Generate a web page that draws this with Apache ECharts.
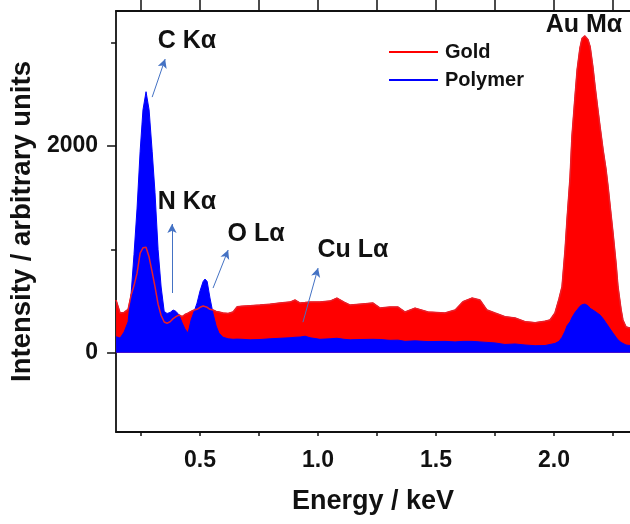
<!DOCTYPE html>
<html>
<head>
<meta charset="utf-8">
<script src="https://cdn.jsdelivr.net/npm/echarts@6/dist/echarts.min.js"></script>
<style>
html,body{margin:0;padding:0;background:#fff;}
#chart{width:630px;height:524px;}
</style>
</head>
<body>
<div id="chart"></div>
<script>
// Energy grid (keV)
var energyKeV = [0.144,0.161,0.178,0.195,0.208,0.220,0.233,0.246,0.258,0.271,0.284,0.297,0.309,0.322,0.335,0.348,0.360,0.373,0.386,0.398,0.411,0.424,0.436,0.449,0.462,0.475,0.487,0.500,0.513,0.521,0.530,0.542,0.555,0.568,0.580,0.597,0.619,0.640,0.657,0.678,0.712,0.754,0.797,0.839,0.881,0.903,0.924,0.945,0.966,1.008,1.051,1.080,1.110,1.136,1.178,1.233,1.263,1.305,1.339,1.369,1.411,1.466,1.538,1.581,1.614,1.652,1.686,1.716,1.750,1.792,1.835,1.877,1.920,1.962,1.983,2.004,2.021,2.034,2.047,2.055,2.068,2.076,2.089,2.098,2.110,2.119,2.131,2.144,2.153,2.165,2.174,2.186,2.195,2.208,2.220,2.229,2.241,2.250,2.263,2.271,2.284,2.292,2.305,2.322];
var goldCounts = [509,384,390,420,560,650,770,965,1015,1020,926,780,640,470,360,297,285,300,330,350,365,350,370,384,400,413,420,440,452,452,440,420,413,400,394,384,380,395,445,450,455,461,470,481,490,510,481,485,490,491,500,529,490,461,470,481,432,442,442,394,432,394,384,413,494,529,510,413,384,349,336,301,291,305,317,384,520,639,1000,1285,1700,2091,2480,2737,2950,3043,3066,3030,2962,2760,2575,2350,2188,1962,1780,1607,1350,1159,860,639,420,317,250,240];
var polymerCounts = [155,142,200,300,578,950,1400,1950,2350,2526,2350,1950,1550,1000,636,400,380,390,413,400,365,290,230,190,317,400,480,600,690,713,690,530,380,260,190,150,135,130,132,130,125,128,135,140,145,150,152,160,145,130,135,140,130,125,128,130,128,120,122,110,115,108,110,105,110,110,105,100,95,80,85,75,68,70,80,90,110,150,210,260,300,340,390,415,450,465,471,455,430,413,400,380,365,330,290,260,220,190,150,125,100,85,75,70];
var xTickValues = [0.25,0.5,0.75,1.0,1.25,1.5,1.75,2.0,2.25];
var xLabelValues = [0.5,1.0,1.5,2.0];
var yMajorValues = [0,2000];
var yMinorValues = [1000,3000];
// arrow start / end [keV, counts]
var peakArrows = [
  [[0.297,2474],[0.352,2842]],
  [[0.381,578],[0.381,1246]],
  [[0.555,626],[0.619,994]],
  [[0.936,296],[1.000,819]]
];

function pairs(ys){ return energyKeV.map(function(x,i){ return [x, ys[i]]; }); }

var FONT = 'Liberation Sans, Arial, sans-serif';
var chart = echarts.init(document.getElementById('chart'), null, {renderer:'canvas'});
var axisCol = '#111';

var option = {
  animation: false,
  backgroundColor: '#fff',
  grid: {left:116, top:11, right:0, bottom:92},
  legend: {
    data: ['Gold','Polymer'],
    orient: 'vertical',
    left: 389, top: 42, padding: 0,
    icon: 'rect',
    itemWidth: 49, itemHeight: 2,
    itemGap: 8,
    textStyle: {fontFamily: FONT, fontSize: 20, fontWeight: 'bold', color: '#111', padding:[0,0,0,2]}
  },
  xAxis: [{
    type: 'value', position: 'bottom', min: 0.144, max: 2.322,
    axisLine: {onZero:false, lineStyle:{color:axisCol, width:1.8}},
    axisTick: {customValues: xTickValues, length: 4, lineStyle:{color:axisCol, width:1.5}},
    axisLabel: {customValues: xLabelValues, formatter: function(v){return v.toFixed(1);}, fontFamily: FONT, fontSize: 23, fontWeight:'bold', color:'#111', margin: 17},
    splitLine: {show:false},
    name: 'Energy / keV', nameLocation: 'middle', nameGap: 56,
    nameTextStyle: {fontFamily: FONT, fontSize: 27, fontWeight: 'bold', color: '#111'}
  },{
    type: 'value', position: 'top', min: 0.144, max: 2.322,
    axisLine: {onZero:false, lineStyle:{color:axisCol, width:1.8}},
    axisTick: {customValues: xTickValues, length: 12, lineStyle:{color:axisCol, width:1.5}},
    axisLabel: {show:false},
    splitLine: {show:false}
  }],
  yAxis: [{
    type: 'value', position: 'left', min: -767, max: 3307,
    axisLine: {show:true, onZero:false, lineStyle:{color:axisCol, width:1.8}},
    axisTick: {show:true, customValues: yMajorValues, length: 9, lineStyle:{color:axisCol, width:1.5}},
    axisLabel: {customValues: yMajorValues, formatter: function(v){return String(v);}, fontFamily: FONT, fontSize: 23, fontWeight:'bold', color:'#111', margin: 18},
    splitLine: {show:false},
    name: 'Intensity / arbitrary units', nameLocation: 'middle', nameGap: 70,
    nameTextStyle: {fontFamily: FONT, fontSize: 27.5, fontWeight: 'bold', color: '#111'}
  },{
    type: 'value', position: 'left', offset: 0, min: -767, max: 3307,
    axisLine: {show:false},
    axisTick: {show:true, customValues: yMinorValues, length: 5, lineStyle:{color:axisCol, width:1.5}},
    axisLabel: {show:false},
    splitLine: {show:false}
  }],
  series: [{
    name: 'Gold', type: 'line', data: pairs(goldCounts), showSymbol: false, symbol:'none',
    lineStyle: {color:'#ff0000', width:1}, itemStyle:{color:'#ff0000'},
    areaStyle: {color:'#ff0000', opacity:1}, z: 1
  },{
    name: 'Polymer', type: 'line', data: pairs(polymerCounts), showSymbol: false, symbol:'none',
    lineStyle: {color:'#0000ff', width:1}, itemStyle:{color:'#0000ff'},
    areaStyle: {color:'#0000ff', opacity:1}, z: 2
  },{
    name: 'Gold line', type: 'line', data: pairs(goldCounts), showSymbol: false, symbol:'none',
    lineStyle: {color:'#e8202a', width:1.5}, itemStyle:{color:'#e8202a'}, z: 3,
    markLine: {
      silent: true, symbol: ['none','arrow'], symbolSize: [7,9],
      lineStyle: {color:'#4472c4', width:1, type:'solid'},
      label: {show:false},
      data: peakArrows.map(function(a){ return [{coord:a[0]},{coord:a[1]}]; })
    }
  }],
  graphic: [
    {type:'text', x:187, y:41, style:{text:'C Kα', font:'bold 25px '+FONT, fill:'#111', align:'center', verticalAlign:'middle'}},
    {type:'text', x:187, y:202, style:{text:'N Kα', font:'bold 25px '+FONT, fill:'#111', align:'center', verticalAlign:'middle'}},
    {type:'text', x:256, y:234, style:{text:'O Lα', font:'bold 25px '+FONT, fill:'#111', align:'center', verticalAlign:'middle'}},
    {type:'text', x:353, y:250, style:{text:'Cu Lα', font:'bold 25px '+FONT, fill:'#111', align:'center', verticalAlign:'middle'}},
    {type:'text', x:584, y:25, style:{text:'Au Mα', font:'bold 25px '+FONT, fill:'#111', align:'center', verticalAlign:'middle'}}
  ]
};
chart.setOption(option);
</script>
</body>
</html>
